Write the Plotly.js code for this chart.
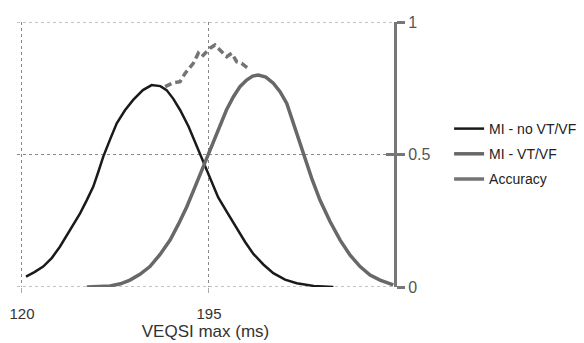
<!DOCTYPE html>
<html>
<head>
<meta charset="utf-8">
<script src="https://cdn.plot.ly/plotly-3.0.1.min.js"></script>
<style>html,body{margin:0;padding:0;background:#fff;}#chart{width:584px;height:343px;}</style>
</head>
<body>
<div id="chart"></div>
<script>
// MI - no VT/VF (black)
var noVtX = [121.6, 125.0, 128.5, 132.0, 135.2, 139.0, 143.3, 146.0, 148.6, 150.6, 152.6, 155.3, 158.0, 161.3, 164.6, 168.5, 172.0, 175.5, 178.0, 180.7, 183.4, 186.8, 190.1, 194.1, 196.5, 198.7, 202.4, 206.1, 209.5, 212.8, 216.8, 220.8, 225.5, 230.2, 237.0, 244.9];
var noVtY = [0.039, 0.056, 0.077, 0.110, 0.152, 0.210, 0.278, 0.328, 0.379, 0.434, 0.492, 0.556, 0.618, 0.667, 0.706, 0.743, 0.762, 0.758, 0.743, 0.710, 0.668, 0.606, 0.533, 0.445, 0.390, 0.338, 0.280, 0.220, 0.170, 0.125, 0.085, 0.052, 0.028, 0.014, 0.004, 0.0];
// MI - VT/VF (grey)
var vtX = [146.0, 151.0, 155.3, 159.5, 163.3, 167.3, 171.3, 175.3, 179.4, 182.8, 186.1, 189.4, 192.7, 195.4, 199.4, 202.0, 204.8, 207.5, 210.1, 212.5, 214.8, 217.8, 220.8, 223.5, 226.2, 229.5, 232.8, 236.2, 239.5, 243.5, 247.6, 251.6, 255.6, 259.6, 263.6, 268.9];
var vtY = [0.0, 0.001, 0.004, 0.012, 0.026, 0.048, 0.077, 0.122, 0.177, 0.238, 0.303, 0.378, 0.454, 0.522, 0.612, 0.668, 0.718, 0.757, 0.781, 0.796, 0.800, 0.792, 0.769, 0.737, 0.693, 0.600, 0.498, 0.410, 0.328, 0.248, 0.177, 0.120, 0.077, 0.045, 0.026, 0.008];
// Accuracy (dashed)
var accX = [177.4, 180.5, 183.4, 185.4, 188.7, 190.7, 192.1, 194.1, 195.4, 197.4, 199.4, 202.1, 204.1, 206.1, 208.1, 211.5];
var accY = [0.756, 0.770, 0.775, 0.806, 0.844, 0.882, 0.869, 0.888, 0.901, 0.913, 0.894, 0.869, 0.882, 0.850, 0.844, 0.819];
var xTicks = [120, 195];
var xTickText = ['120', '195'];
var yTicks = [0, 0.5, 1];
var yTickText = ['0', '0.5', '1'];

var traces = [
  {x: noVtX, y: noVtY, name: 'MI - no VT/VF', mode: 'lines', line: {color: '#1a1a1a', width: 2.5}, legendgroup: 'a'},
  {x: vtX, y: vtY, name: 'MI - VT/VF', mode: 'lines', line: {color: '#686868', width: 3.5}, legendgroup: 'b'},
  {x: accX, y: accY, name: 'Accuracy', mode: 'lines', line: {color: '#747474', width: 3.5, dash: '7px,4px'}, showlegend: false},
  {x: [null], y: [null], name: 'Accuracy', mode: 'lines', line: {color: '#747474', width: 3.5}, legendgroup: 'c'},
  {x: [200], y: [0.5], yaxis: 'y2', mode: 'lines', showlegend: false, hoverinfo: 'skip', line: {width: 0}}
];

var gridLine = {color: '#888', width: 1, dash: 'dot'};
var layout = {
  width: 584, height: 343,
  margin: {l: 17, r: 190, t: 22, b: 56},
  paper_bgcolor: '#fff', plot_bgcolor: '#fff',
  font: {family: 'Liberation Sans, Arial, sans-serif', size: 15, color: '#333'},
  showlegend: true,
  legend: {xref: 'container', yref: 'container', x: 0.769, xanchor: 'left', y: 0.551, yanchor: 'middle', font: {size: 14, color: '#222'}, tracegroupgap: 4, bgcolor: 'rgba(0,0,0,0)', itemwidth: 30},
  shapes: [
    {type: 'line', xref: 'paper', yref: 'y', x0: 0, x1: 1, y0: 0, y1: 0, line: gridLine, layer: 'below'},
    {type: 'line', xref: 'paper', yref: 'y', x0: 0, x1: 1, y0: 1, y1: 1, line: gridLine, layer: 'below'}
  ],
  xaxis: {
    range: [118, 269.2], tickvals: xTicks, ticktext: xTickText, automargin: false,
    showgrid: true, gridcolor: '#888', griddash: 'dot', gridwidth: 1,
    zeroline: false, showline: false, ticks: 'outside', ticklen: 5, tickcolor: '#aaa', tickwidth: 1,
    ticklabelstandoff: 8,
    tickfont: {size: 15, color: '#333'},
    title: {text: 'VEQSI max (ms)', font: {size: 17, color: '#333'}, standoff: 2}
  },
  yaxis: {
    range: [0, 1], tickvals: yTicks, ticktext: yTickText, side: 'right', automargin: false,
    showgrid: true, gridcolor: '#888', griddash: 'dot', gridwidth: 1,
    zeroline: false, showline: true, linecolor: '#777', linewidth: 3,
    ticks: 'outside', ticklen: 8, tickwidth: 3, tickcolor: '#777',
    tickfont: {size: 16, color: '#555'}
  },
  yaxis2: {
    overlaying: 'y', side: 'right', range: [0, 1], tickvals: yTicks, automargin: false,
    showticklabels: false, showgrid: false, zeroline: false, showline: false,
    ticks: 'inside', ticklen: 8, tickwidth: 3, tickcolor: '#777'
  }
};

Plotly.newPlot('chart', traces, layout, {displayModeBar: false, staticPlot: true});
</script>
</body>
</html>
